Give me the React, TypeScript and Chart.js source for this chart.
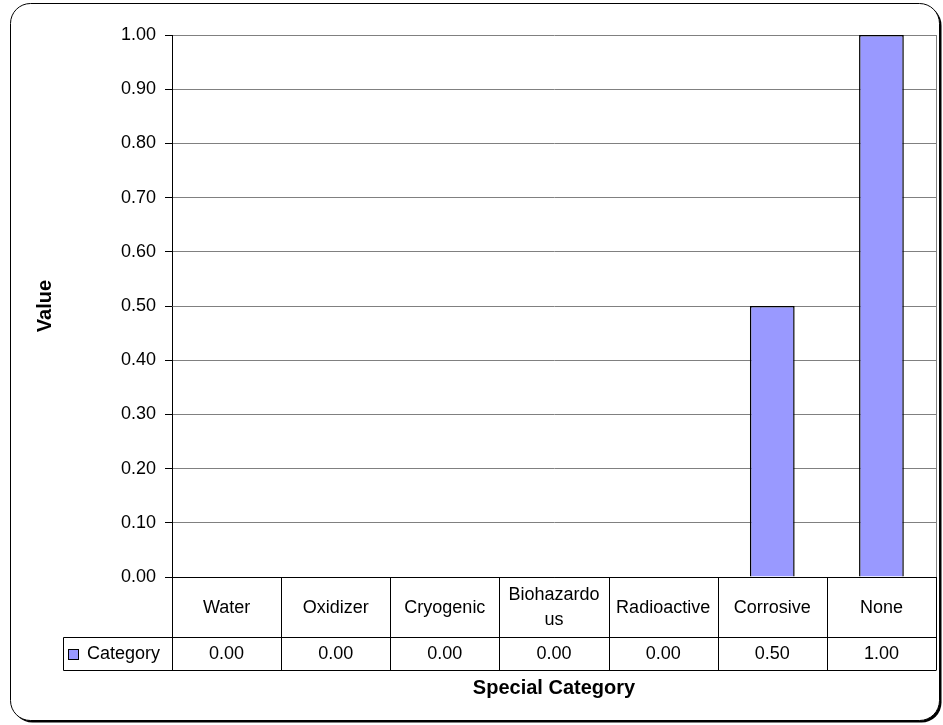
import React, { useEffect, useRef } from 'react';
import { Chart, registerables } from 'chart.js';

Chart.register(...registerables);

// ---- data ----
const categories: string[] = ['Water', 'Oxidizer', 'Cryogenic', 'Biohazardous', 'Radioactive', 'Corrosive', 'None'];
const seriesName = 'Category';
const values: number[] = [0, 0, 0, 0, 0, 0.5, 1];
const yMin = 0;
const yMax = 1;
const yStep = 0.1;
const xTitle = 'Special Category';
const yTitle = 'Value';

const FONT_FAMILY = '"Liberation Sans", Arial, Helvetica, sans-serif';
const FONT_SIZE = 18;
const TITLE_SIZE = 20;
const BAR_FILL = '#9999FF';
const BAR_EDGE = '#000000';
const GRID = '#808080';

function wrapChars(ctx: CanvasRenderingContext2D, text: string, maxW: number): string[] {
  const lines: string[] = [];
  let cur = '';
  for (const ch of text) {
    if (cur && ctx.measureText(cur + ch).width > maxW) {
      lines.push(cur);
      cur = ch;
    } else {
      cur += ch;
    }
  }
  if (cur) lines.push(cur);
  return lines;
}

const framePlugin = {
  id: 'frame',
  beforeDraw(chart: any) {
    const { ctx } = chart;
    ctx.save();
    const x = 10.5, y = 3.5, w = 929, h = 717, r = 20;
    ctx.fillStyle = '#000';
    ctx.beginPath();
    ctx.roundRect(x + 2, y + 2, w, h, r);
    ctx.fill();
    ctx.fillStyle = '#fff';
    ctx.strokeStyle = '#000';
    ctx.lineWidth = 1;
    ctx.beginPath();
    ctx.roundRect(x, y, w, h, r);
    ctx.fill();
    ctx.stroke();
    ctx.restore();
  },
  afterDatasetsDraw(chart: any) {
    const { ctx, chartArea } = chart;
    ctx.save();
    ctx.strokeStyle = GRID;
    ctx.lineWidth = 1;
    const rx = Math.round(chartArea.right) + 0.5;
    ctx.beginPath();
    ctx.moveTo(rx, chartArea.top);
    ctx.lineTo(rx, chartArea.bottom);
    ctx.stroke();
    ctx.restore();
  },
};

const tablePlugin = {
  id: 'dataTable',
  afterDraw(chart: any) {
    const { ctx, chartArea, scales } = chart;
    const xs = scales.x;
    const n = categories.length;
    const colW = (chartArea.right - chartArea.left) / n;
    const top = chartArea.bottom;
    const headBottom = top + 60;
    const rowBottom = headBottom + 33;
    const legendLeft = 63;
    const al = (v: number) => Math.round(v) + 0.5;

    ctx.save();
    ctx.strokeStyle = '#000';
    ctx.lineWidth = 1;
    ctx.beginPath();
    for (let i = 0; i <= n; i++) {
      const bx = al(chartArea.left + i * colW);
      ctx.moveTo(bx, top);
      ctx.lineTo(bx, rowBottom);
    }
    ctx.moveTo(al(legendLeft), al(headBottom));
    ctx.lineTo(al(chartArea.right), al(headBottom));
    ctx.moveTo(al(legendLeft), al(rowBottom));
    ctx.lineTo(al(chartArea.right), al(rowBottom));
    ctx.moveTo(al(legendLeft), al(headBottom));
    ctx.lineTo(al(legendLeft), al(rowBottom));
    ctx.stroke();

    ctx.font = `${FONT_SIZE}px ${FONT_FAMILY}`;
    ctx.fillStyle = '#000';
    ctx.textAlign = 'center';
    ctx.textBaseline = 'middle';
    const lineH = 25;
    categories.forEach((c, i) => {
      const cx = xs.getPixelForValue(i);
      const lines = wrapChars(ctx, c, colW - 12);
      const midY = (top + headBottom) / 2 + 1;
      const startY = midY - ((lines.length - 1) * lineH) / 2;
      lines.forEach((ln, k) => ctx.fillText(ln, cx, startY + k * lineH));
      ctx.fillText(values[i].toFixed(2), cx, (headBottom + rowBottom) / 2 + 1);
    });

    // legend key cell
    const keyY = (headBottom + rowBottom) / 2;
    const ky = Math.round(keyY - 5) + 0.5;
    ctx.fillStyle = BAR_FILL;
    ctx.fillRect(68.5, ky, 10, 10);
    ctx.strokeStyle = BAR_EDGE;
    ctx.strokeRect(68.5, ky, 10, 10);
    ctx.fillStyle = '#000';
    ctx.textAlign = 'left';
    ctx.fillText(seriesName, 87, keyY + 1);
    ctx.restore();
  },
};

export default function App() {
  const ref = useRef<HTMLCanvasElement | null>(null);

  useEffect(() => {
    document.body.style.margin = '0';
    const canvas = ref.current;
    if (!canvas) return;
    Chart.defaults.font.family = FONT_FAMILY;
    Chart.defaults.font.size = FONT_SIZE;
    Chart.defaults.color = '#000';

    const chart = new Chart(canvas, {
      type: 'bar',
      data: {
        labels: categories,
        datasets: [
          {
            label: seriesName,
            data: values,
            backgroundColor: BAR_FILL,
            borderColor: BAR_EDGE,
            borderWidth: 1.5,
            borderSkipped: 'start',
            categoryPercentage: 1,
            barPercentage: 0.41,
          },
        ],
      },
      options: {
        responsive: false,
        animation: false,
        layout: { padding: { left: 0, top: 35, right: 7, bottom: 0 } },
        plugins: {
          legend: { display: false },
          tooltip: { enabled: false },
        },
        scales: {
          x: {
            offset: true,
            grid: { display: false },
            border: { display: true, color: '#000', width: 1 },
            ticks: { display: false },
            title: {
              display: true,
              text: xTitle,
              font: { weight: 'bold', size: TITLE_SIZE },
              color: '#000',
              padding: { top: 0, bottom: 25 },
            },
            afterFit: (s: any) => {
              s.height = 148;
            },
          },
          y: {
            min: yMin,
            max: yMax,
            ticks: {
              stepSize: yStep,
              padding: 9,
              color: '#000',
              font: { size: FONT_SIZE },
              callback: (v: any) => Number(v).toFixed(2),
            },
            grid: {
              color: (c: any) => (c.tick && c.tick.value === 0 ? '#000' : GRID),
              tickColor: '#000',
              tickLength: 7,
              lineWidth: 1,
            },
            border: { display: true, color: '#000', width: 1 },
            title: {
              display: true,
              text: yTitle,
              font: { weight: 'bold', size: TITLE_SIZE },
              color: '#000',
              padding: { top: 33, bottom: 0 },
            },
            afterFit: (s: any) => {
              s.width = 172;
            },
          },
        },
      },
      plugins: [framePlugin, tablePlugin],
    });
    return () => chart.destroy();
  }, []);

  return (
    <div style={{ position: 'fixed', left: 0, top: 0, width: 943, height: 725 }}>
      <canvas ref={ref} width={943} height={725} style={{ display: 'block' }} />
    </div>
  );
}
